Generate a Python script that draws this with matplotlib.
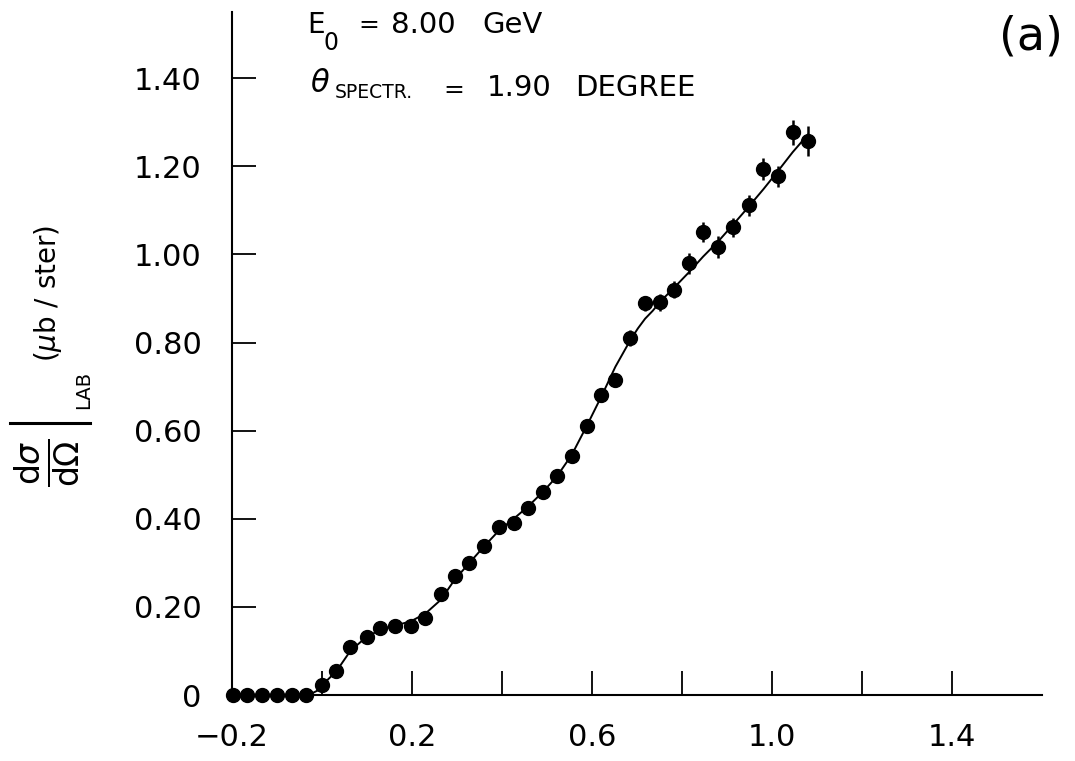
import numpy as np
import matplotlib
matplotlib.use("Agg")
from matplotlib import pyplot as plt
from matplotlib.lines import Line2D
from matplotlib.ticker import FixedLocator

x_data = [-0.198, -0.167, -0.133, -0.100, -0.066, -0.035, 0.000, 0.032, 0.063, 0.099,
          0.130, 0.163, 0.197, 0.230, 0.264, 0.295, 0.326, 0.359, 0.393, 0.426,
          0.457, 0.491, 0.522, 0.555, 0.589, 0.620, 0.651, 0.685, 0.718, 0.752,
          0.783, 0.816, 0.847, 0.881, 0.914, 0.948, 0.981, 1.014, 1.046, 1.079]
y_data = [0.000, 0.000, 0.000, 0.000, 0.000, 0.000, 0.023, 0.055, 0.109, 0.132,
          0.152, 0.157, 0.157, 0.175, 0.230, 0.269, 0.300, 0.339, 0.382, 0.391,
          0.425, 0.461, 0.498, 0.543, 0.611, 0.682, 0.714, 0.811, 0.889, 0.891,
          0.920, 0.980, 1.050, 1.016, 1.061, 1.111, 1.193, 1.177, 1.277, 1.257]
y_err = [0.004, 0.004, 0.004, 0.004, 0.004, 0.004, 0.005, 0.006, 0.007, 0.008,
         0.008, 0.008, 0.008, 0.009, 0.010, 0.010, 0.010, 0.011, 0.011, 0.012,
         0.012, 0.012, 0.013, 0.013, 0.014, 0.014, 0.015, 0.018, 0.017, 0.020,
         0.020, 0.024, 0.023, 0.025, 0.022, 0.024, 0.025, 0.024, 0.028, 0.034]

# fitted curve
x_fit = [-0.030, -0.010, 0.000, 0.032, 0.063, 0.099, 0.130, 0.163, 0.197, 0.230,
         0.264, 0.295, 0.326, 0.359, 0.393, 0.426, 0.457, 0.491, 0.522, 0.555,
         0.589, 0.622, 0.652, 0.685, 0.702, 0.718, 0.735, 0.752, 0.783, 0.816,
         0.847, 0.881, 0.914, 0.948, 0.981, 1.014, 1.046, 1.080]
y_fit = [0.000, 0.010, 0.022, 0.054, 0.100, 0.132, 0.148, 0.158, 0.167, 0.185,
         0.216, 0.262, 0.298, 0.336, 0.373, 0.400, 0.427, 0.461, 0.496, 0.545,
         0.612, 0.680, 0.745, 0.805, 0.832, 0.854, 0.872, 0.893, 0.925, 0.960,
         0.995, 1.030, 1.068, 1.108, 1.148, 1.190, 1.232, 1.272]

x_labeled = [-0.2, 0.2, 0.6, 1.0, 1.4]
x_label_text = ['\u22120.2', '0.2', '0.6', '1.0', '1.4']
x_unlabeled = [0.0, 0.4, 0.8, 1.2]
y_ticks = [0, 0.2, 0.4, 0.6, 0.8, 1.0, 1.2, 1.4]
y_tick_text = ['0', '0.20', '0.40', '0.60', '0.80', '1.00', '1.20', '1.40']

plt.rcParams['font.family'] = ['DejaVu Sans']

W, H = 1075, 761
fig = plt.figure(figsize=(W / 100, H / 100), dpi=100)
ax = fig.add_axes([0.2158, 0.0867, 0.9693 - 0.2158, 0.9842 - 0.0867])


def px(x, y):
    # pixel position (from top-left) -> figure fraction
    return x / W, 1 - y / H


ax.plot(x_fit, y_fit, color='black', linewidth=1.4, zorder=2)
ax.errorbar(x_data, y_data, yerr=y_err, fmt='o', color='black', markersize=10,
            elinewidth=1.8, capsize=0, zorder=3, clip_on=False)

ax.set_xlim(-0.2, 1.6)
ax.set_ylim(0, 1.55)

for side in ['top', 'right']:
    ax.spines[side].set_visible(False)
for side in ['left', 'bottom']:
    ax.spines[side].set_linewidth(1.5)

ax.xaxis.set_major_locator(FixedLocator(x_labeled))
ax.set_xticklabels(x_label_text)
ax.xaxis.set_minor_locator(FixedLocator(x_unlabeled))
ax.set_yticks(y_ticks)
ax.set_yticklabels(y_tick_text)

ax.tick_params(axis='both', which='both', direction='in', length=17, width=1.3,
               labelsize=22)
ax.tick_params(axis='x', which='major', pad=20)
ax.tick_params(axis='y', which='major', pad=22)

# annotation text, placed piece by piece like the original lettering
kw = dict(ha='center', va='center')
fig.text(*px(316, 25), 'E', fontsize=20, **kw)
fig.text(*px(331, 43), '0', fontsize=17, **kw)
fig.text(*px(369, 25), '=', fontsize=18, **kw)
fig.text(*px(423, 25), '8.00', fontsize=21, **kw)
fig.text(*px(513, 25), 'GeV', fontsize=21, **kw)

fig.text(*px(320, 84), r'$\theta$', fontsize=22, **kw)
fig.text(*px(374, 93), 'SPECTR.', fontsize=13.5, **kw)
fig.text(*px(454, 90), '=', fontsize=18, **kw)
fig.text(*px(519, 88), '1.90', fontsize=21, **kw)
fig.text(*px(635, 88), 'DEGREE', fontsize=21, **kw)

fig.text(*px(1031, 37), '(a)', fontsize=33, **kw)

# y label: d(sigma)/d(Omega) |_LAB (mu b / ster), rotated
fig.text(*px(48, 463), r'$\frac{\mathrm{d}\sigma}{\mathrm{d}\Omega}$',
         fontsize=34, rotation=90, **kw)
bar_x0, bar_y = px(10, 423)
bar_x1, _ = px(90, 423)
fig.add_artist(Line2D([bar_x0, bar_x1], [bar_y, bar_y], color='black',
                      linewidth=2.2, transform=fig.transFigure))
fig.text(*px(84, 390), 'LAB', fontsize=14, rotation=90, **kw)
fig.text(*px(48, 293), r'($\mu$b / ster)', fontsize=20, rotation=90, **kw)

fig.savefig('out.png', dpi=100)
